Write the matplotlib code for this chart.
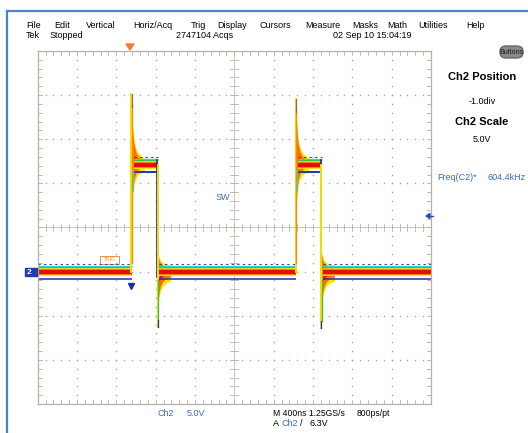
import numpy as np
import matplotlib.pyplot as plt
from matplotlib.patches import FancyBboxPatch, Rectangle, Polygon

# ---- waveform (time in ns, volts) ----
settle_t0 = [0, 975, 1235, 2646, 2900]
settle_t1 = [956, 1223, 2627, 2888, 4000]
settle_v = [0.0, 12.1, 0.0, 12.1, 0.0]

rise_t = [956, 2627]
fall_t = [1223, 2888]
peak_v = [20.1, 19.6]
dip_v = [-6.3, -6.4]
high_v = 12.1
low_v = 0.0

# ringing envelope after the rising edge
ring_rise_dt = [0, 5, 12, 25, 45, 70, 100, 130]
ring_rise_hi = [19.0, 17.0, 15.6, 14.4, 13.5, 13.0, 12.7, 12.5]
ring_rise_lo = [7.5, 8.6, 9.6, 10.5, 11.2, 11.6, 11.8, 11.9]

# ringing envelope after the falling edge
ring_fall_dt = [0, 5, 12, 25, 45, 70, 100, 130]
ring_fall_hi = [2.0, 1.7, 1.3, 1.0, 0.75, 0.6, 0.5, 0.45]
ring_fall_lo = [-3.6, -3.0, -2.3, -1.7, -1.2, -0.9, -0.7, -0.6]

menu_items = ["File", "Edit", "Vertical", "Horiz/Acq", "Trig", "Display",
              "Cursors", "Measure", "Masks", "Math", "Utilities", "Help"]
menu_x = [26, 54, 86, 133, 191, 217, 259, 305, 352, 387, 418, 466]

W, H = 528, 433
BLUE_TXT = '#3a6cc0'
plt.rcParams['font.family'] = ['Liberation Sans', 'DejaVu Sans']

fig = plt.figure(figsize=(W / 100, H / 100), dpi=100)
fig.patch.set_facecolor('white')


def ftxt(x, y, s, **kw):
    kw.setdefault('va', 'center')
    kw.setdefault('fontsize', 6.5)
    fig.text(x / W, 1 - y / H, s, **kw)


# blue window frame
fig.add_artist(plt.Line2D([7 / W, 7 / W], [0, 1 - 11 / H], color='#4f82cc', lw=1.6))
fig.add_artist(plt.Line2D([7 / W, 1], [1 - 11 / H, 1 - 11 / H], color='#4f82cc', lw=1.6))

# graticule axes
x0, x1, y0, y1 = 37.7, 431.0, 51.0, 404.0
ax = fig.add_axes([x0 / W, 1 - y1 / H, (x1 - x0) / W, (y1 - y0) / H])
ax.set_xlim(0, 4000)
ax.set_ylim(-15, 25)
ax.set_xticks([])
ax.set_yticks([])
for s in ax.spines.values():
    s.set_color('#b8b2a2')
    s.set_linewidth(0.9)

gcol = '#a4a4a4'
xs_minor = np.arange(0, 4001, 80)
ys_minor = np.arange(-15, 25.01, 1)
for gx in range(400, 4000, 400):
    if gx == 2000:
        continue
    ax.plot(np.full_like(ys_minor, gx), ys_minor, ls='none', marker='s', ms=1.0, color=gcol, mec='none')
for gy in range(-10, 25, 5):
    if gy == 5:
        continue
    ax.plot(xs_minor, np.full_like(xs_minor, gy, dtype=float), ls='none', marker='s', ms=1.0, color=gcol, mec='none')

# center cross with ticks
ax.axvline(2000, color='#c8c4b8', lw=0.7)
ax.axhline(5, color='#c8c4b8', lw=0.7)
for t in xs_minor:
    ax.plot([t, t], [4.6, 5.4], color='#b8b2a2', lw=0.6)
    ax.plot([t, t], [-15, -14.5], color='#b8b2a2', lw=0.6)
    ax.plot([t, t], [24.5, 25], color='#b8b2a2', lw=0.6)
for v in ys_minor:
    ax.plot([1960, 2040], [v, v], color='#b8b2a2', lw=0.6)
    ax.plot([0, 40], [v, v], color='#b8b2a2', lw=0.6)
    ax.plot([3960, 4000], [v, v], color='#b8b2a2', lw=0.6)

# ---- persistence traces: settled levels ----
bands = [  # offset (V), colour, width (pt), style
    (-0.05, '#f5e800', 5.6, '-'),
    (-0.05, '#ff8c00', 4.4, '-'),
    (0.0, '#e01010', 3.0, '-'),
    (0.5, '#30c040', 0.9, '-'),
    (0.64, '#30d0d8', 0.9, '-'),
    (-0.82, '#1a2fb0', 1.1, '-'),
    (0.84, '#2040c0', 0.8, (0, (2, 3))),
]
for off, col, lw, ls in bands:
    for t0, t1, v in zip(settle_t0, settle_t1, settle_v):
        ax.plot([t0, t1], [v + off, v + off], color=col, lw=lw, ls=ls, solid_capstyle='butt')

for tr, tf, pk, dp in zip(rise_t, fall_t, peak_v, dip_v):
    # rising edge and overshoot ringing
    t_r = tr + np.array(ring_rise_dt)
    ax.fill_between(t_r, np.array(ring_rise_lo) - 0.6, np.array(ring_rise_hi) + 0.4, color='#f5e800', lw=0)
    ax.fill_between(t_r, ring_rise_lo, ring_rise_hi, color='#ff7000', lw=0)
    ax.plot([tr - 4, tr - 4], [low_v, pk], color='#f5e000', lw=1.4)
    ax.plot([tr, tr], [low_v + 1, pk - 1], color='#ff8c00', lw=1.0)
    ax.plot([tr - 2, tr - 2], [pk - 1.5, pk], color='#707070', lw=0.8)
    ax.plot([tr + 60, tf - 3], [high_v - 0.8] * 2, color='#1a2fb0', lw=1.1)
    ax.plot([tr + 10, tr + 10], [high_v - 3, high_v - 0.6], color='#30d0d8', lw=0.8)

    # falling edge and undershoot ringing
    ax.plot([tf - 6, tf - 6], [high_v + 0.6, low_v - 0.6], color='#1a2fb0', lw=1.2)
    ax.plot([tf - 2, tf - 2], [high_v, dp], color='#f5e000', lw=1.4)
    ax.plot([tf, tf], [-1, dp + 0.8], color='#40c040', lw=0.9)
    ax.plot([tf - 3, tf - 3], [dp + 0.8, dp], color='#1a2fb0', lw=0.9)
    t_f = tf + np.array(ring_fall_dt)
    ax.fill_between(t_f, np.array(ring_fall_lo) - 0.5, np.array(ring_fall_hi) + 0.3, color='#f5e800', lw=0)
    ax.fill_between(t_f, ring_fall_lo, ring_fall_hi, color='#ff7000', lw=0)
    ax.fill_between(t_f[2:], np.array(ring_fall_lo[2:]) * 0.45, np.array(ring_fall_hi[2:]) * 0.45,
                    color='#e01010', lw=0)

# ---- markers ----
ax.plot([rise_t[0] - 10], [-1.6], marker='v', ms=4, color='#1a2fb0', clip_on=False)
ax.add_patch(Rectangle((630, 0.9), 200, 0.9, fill=False, ec='#f09040', lw=0.7))
ax.text(730, 1.35, 'TRIG', fontsize=3.5, color='#f09040', ha='center', va='center')

fig.add_artist(Polygon([[126 / W, 1 - 44 / H], [134 / W, 1 - 44 / H], [130 / W, 1 - 50 / H]],
                       closed=True, color='#f08030', transform=fig.transFigure))
fig.add_artist(Polygon([[426 / W, 1 - 216 / H], [430 / W, 1 - 213.5 / H], [430 / W, 1 - 218.5 / H]],
                       closed=True, color='#2050c0', transform=fig.transFigure))
fig.add_artist(plt.Line2D([428 / W, 433 / W], [1 - 216 / H] * 2, color='#2050c0', lw=0.9))
fig.add_artist(Rectangle((25 / W, 1 - 276 / H), 12 / W, 8 / H, color='#1f3fa8', transform=fig.transFigure))
ftxt(29, 272, '2', color='white', fontsize=6, fontweight='bold', ha='center')

# ---- menu and status ----
for lab, mx in zip(menu_items, menu_x):
    ftxt(mx, 25, lab)
ftxt(26, 35, 'Tek')
ftxt(50, 35, 'Stopped')
ftxt(176, 35, '2747104 Acqs')
ftxt(333, 35, '02 Sep 10 15:04:19')

fig.add_artist(FancyBboxPatch((500 / W, 1 - 58 / H), 23 / W, 12 / H,
                              boxstyle='round,pad=0,rounding_size=0.012',
                              fc='#8a8a8a', ec='#6a6a6a', transform=fig.transFigure))
ftxt(511.5, 52, 'Buttons', fontsize=5, ha='center', color='#1a1a1a')

ftxt(482, 77, 'Ch2 Position', fontsize=8, fontweight='bold', ha='center')
ftxt(482, 102, '-1.0div', ha='center')
ftxt(482, 122, 'Ch2 Scale', fontsize=8, fontweight='bold', ha='center')
ftxt(482, 140, '5.0V', ha='center')
ftxt(437, 177, 'Freq(C2)*', color=BLUE_TXT)
ftxt(488, 177, '604.4kHz', color=BLUE_TXT)

ftxt(216, 198, 'SW', color=BLUE_TXT)

ftxt(157, 414, 'Ch2', color=BLUE_TXT)
ftxt(187, 414, '5.0V', color=BLUE_TXT)
ftxt(273, 414, 'M 400ns 1.25GS/s', fontsize=6.2)
ftxt(357, 414, '800ps/pt', fontsize=6.2)
ftxt(273, 424, 'A')
ftxt(281, 424, 'Ch2', color=BLUE_TXT)
ftxt(300, 424, '/')
ftxt(309, 424, '6.3V')

fig.savefig('out.png', dpi=100)
